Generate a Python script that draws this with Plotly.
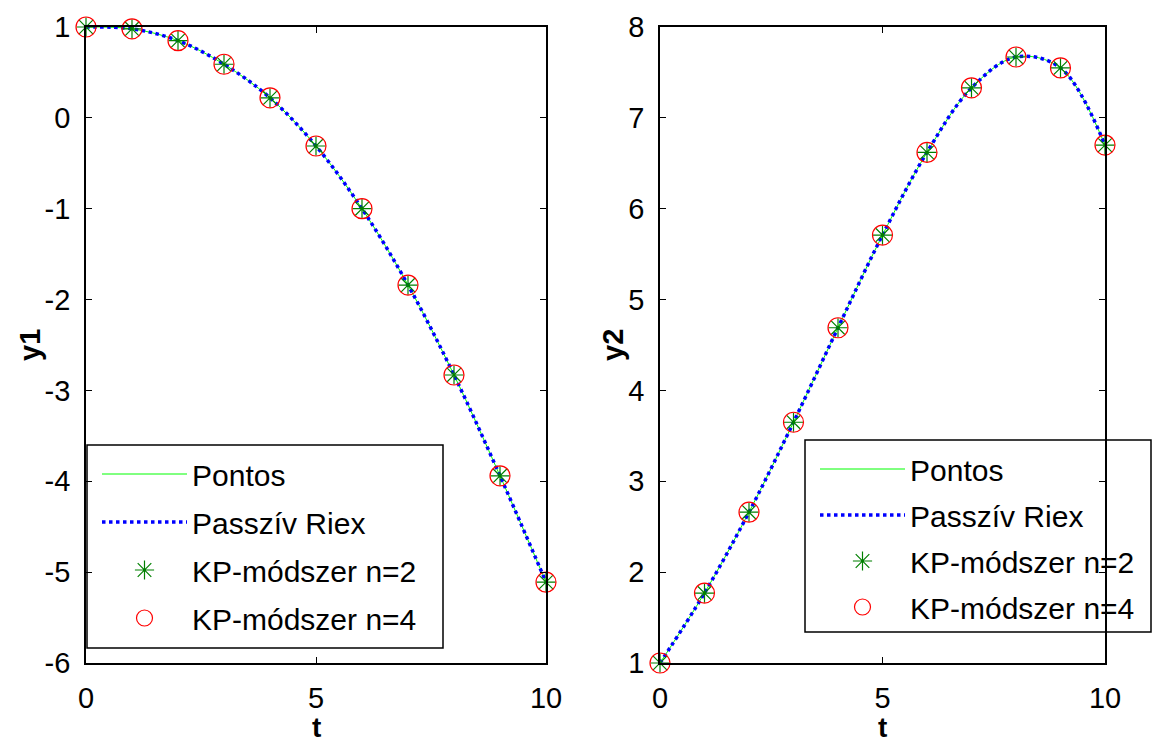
import plotly.graph_objects as go

t = [0, 1, 2, 3, 4, 5, 6, 7, 8, 9, 10]
y1 = [1.0, 0.98, 0.85, 0.59, 0.22, -0.31, -1.0, -1.84, -2.83, -3.94, -5.11]
y2 = [1.0, 1.77, 2.66, 3.65, 4.69, 5.71, 6.62, 7.33, 7.67, 7.55, 6.70]

y1_ticks = [-6, -5, -4, -3, -2, -1, 0, 1]
y2_ticks = [1, 2, 3, 4, 5, 6, 7, 8]
x_ticks = [0, 5, 10]

names = ["Pontos", "Passzív Riex", "KP-módszer n=2", "KP-módszer n=4"]

fig = go.Figure()
W, H = 1153, 747
font = "Liberation Sans, Arial, sans-serif"


def add_series(y, xa, ya, leg):
    fig.add_trace(go.Scatter(x=t, y=y, mode="lines", line=dict(color="#00ff00", width=1, shape="spline"),
                             name=names[0], xaxis=xa, yaxis=ya, legend=leg, legendgroup=leg + "a"))
    fig.add_trace(go.Scatter(x=t, y=y, mode="lines",
                             line=dict(color="#0000ff", width=3.5, dash="dot", shape="spline"),
                             name=names[1], xaxis=xa, yaxis=ya, legend=leg, legendgroup=leg + "b"))
    fig.add_trace(go.Scatter(x=t, y=y, mode="markers", cliponaxis=False,
                             marker=dict(symbol="asterisk-open", size=16, color="#008000",
                                         line=dict(color="#008000", width=1.2)),
                             name=names[2], xaxis=xa, yaxis=ya, legend=leg, legendgroup=leg + "c"))
    fig.add_trace(go.Scatter(x=t, y=y, mode="markers", cliponaxis=False,
                             marker=dict(symbol="circle-open", size=20, color="#ff0000",
                                         line=dict(color="#ff0000", width=1.2)),
                             name=names[3], xaxis=xa, yaxis=ya, legend=leg, legendgroup=leg + "d"))


add_series(y1, "x", "y", "legend")
add_series(y2, "x2", "y2", "legend2")

ydom = [1 - 663 / H, 1 - 27 / H]
axis_common = dict(showline=True, linecolor="black", linewidth=1.6, mirror="ticks", ticks="inside",
                   ticklen=6, tickcolor="black", showgrid=False, zeroline=False, automargin=False,
                   tickfont=dict(family=font, size=29, color="black"))

fig.update_layout(
    width=W, height=H, margin=dict(l=0, r=0, t=0, b=0),
    paper_bgcolor="white", plot_bgcolor="white",
    font=dict(family=font, color="black"),
    showlegend=True,
    xaxis=dict(domain=[86 / W, 546 / W], range=[0, 10], tickvals=x_ticks, ticktext=[str(v) for v in x_ticks],
               anchor="y", ticklabelstandoff=8, **axis_common),
    yaxis=dict(domain=ydom, range=[-6, 1], tickvals=y1_ticks, ticktext=[str(v) for v in y1_ticks],
               anchor="x", ticklabelstandoff=8, **axis_common),
    xaxis2=dict(domain=[660 / W, 1105 / W], range=[0, 10], tickvals=x_ticks, ticktext=[str(v) for v in x_ticks],
                anchor="y2", ticklabelstandoff=8, **axis_common),
    yaxis2=dict(domain=ydom, range=[1, 8], tickvals=y2_ticks, ticktext=[str(v) for v in y2_ticks],
                anchor="x2", ticklabelstandoff=8, **axis_common),
    legend=dict(x=97 / W, y=1 - 448 / H, xanchor="left", yanchor="top", bgcolor="rgba(0,0,0,0)",
                borderwidth=0, font=dict(family=font, size=30), itemwidth=85, tracegroupgap=6),
    legend2=dict(x=815 / W, y=1 - 443 / H, xanchor="left", yanchor="top", bgcolor="rgba(0,0,0,0)",
                 borderwidth=0, font=dict(family=font, size=30), itemwidth=85, tracegroupgap=4),
    shapes=[
        dict(type="rect", xref="paper", yref="paper", x0=87 / W, x1=443 / W, y0=1 - 648 / H, y1=1 - 445 / H,
             line=dict(color="black", width=1.5), fillcolor="white", layer="below"),
        dict(type="rect", xref="paper", yref="paper", x0=805 / W, x1=1151 / W, y0=1 - 632 / H, y1=1 - 440 / H,
             line=dict(color="black", width=1.5), fillcolor="white", layer="below"),
    ],
    annotations=[
        dict(text="<b>y1</b>", x=30 / W, y=1 - 345 / H, xref="paper", yref="paper", textangle=-90,
             showarrow=False, font=dict(family=font, size=29), xanchor="center", yanchor="middle"),
        dict(text="<b>y2</b>", x=613 / W, y=1 - 345 / H, xref="paper", yref="paper", textangle=-90,
             showarrow=False, font=dict(family=font, size=29), xanchor="center", yanchor="middle"),
        dict(text="<b>t</b>", x=316 / W, y=1 - 727 / H, xref="paper", yref="paper",
             showarrow=False, font=dict(family=font, size=28), xanchor="center", yanchor="middle"),
        dict(text="<b>t</b>", x=882 / W, y=1 - 727 / H, xref="paper", yref="paper",
             showarrow=False, font=dict(family=font, size=28), xanchor="center", yanchor="middle"),
    ],
)

fig.write_html("out.html")
